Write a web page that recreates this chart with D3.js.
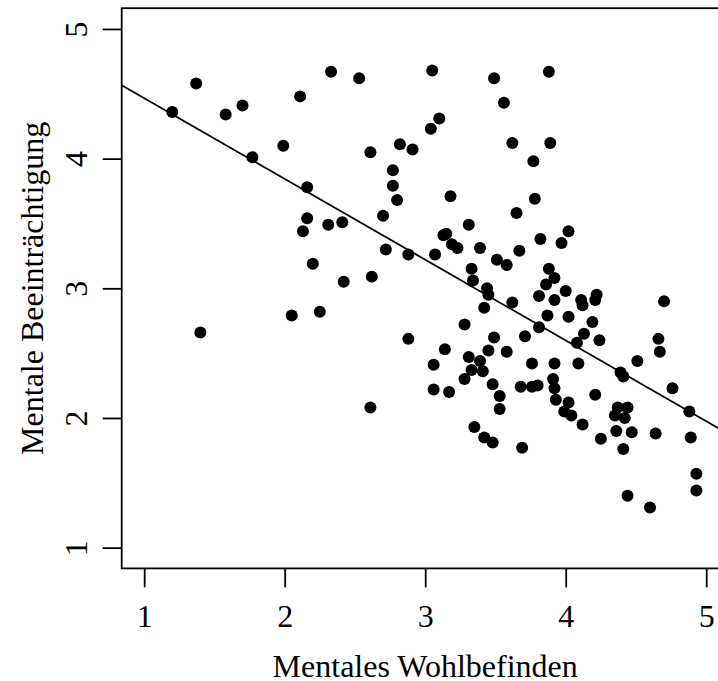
<!DOCTYPE html>
<html>
<head>
<meta charset="utf-8">
<script src="https://cdn.jsdelivr.net/npm/d3@7"></script>
<style>
  body { margin: 0; background: #fff; }
  svg { display: block; }
</style>
</head>
<body>
<div id="scatter"></div>
<script>
// Mentales Wohlbefinden (x) and Mentale Beeintraechtigung (y)
var wohlbefinden = [
  1.20, 1.37, 1.58, 1.70, 1.77, 1.99, 2.11, 2.33, 2.16, 2.16,
  2.13, 2.31, 2.41, 2.20, 2.42, 1.40, 2.05, 2.25, 2.53, 3.05,
  3.49, 3.56, 3.10, 3.04, 3.62, 3.77, 2.61, 2.82, 2.91, 2.77,
  2.77, 2.80, 3.18, 2.70, 3.65, 3.78, 3.31, 3.13, 3.15, 3.19,
  3.23, 3.39, 3.67, 2.72, 2.88, 3.07, 3.51, 3.58, 3.33, 3.34,
  3.44, 3.45, 3.62, 2.62, 3.88, 3.89, 4.02, 3.82, 3.97, 3.88,
  3.92, 3.86, 4.00, 3.81, 3.92, 4.11, 4.12, 4.22, 4.21, 4.70,
  3.87, 4.02, 3.81, 3.71, 4.19, 4.13, 4.08, 4.24, 4.66, 4.67,
  4.51, 3.76, 3.92, 4.09, 4.39, 4.41, 4.76, 3.68, 3.76, 3.80,
  3.91, 3.92, 4.21, 3.93, 4.02, 3.99, 4.04, 4.12, 4.37, 4.44,
  4.35, 4.42, 4.88, 4.25, 4.36, 4.47, 4.64, 4.89, 4.41, 3.69,
  4.93, 4.93, 4.44, 4.60, 3.42, 3.28, 2.88, 3.49, 3.14, 3.45,
  3.58, 3.06, 3.31, 3.39, 3.33, 3.41, 3.28, 3.48, 3.06, 3.17,
  3.53, 3.53, 2.61, 3.35, 3.42, 3.48
];
var beeintraechtigung = [
  4.36, 4.58, 4.34, 4.41, 4.01, 4.10, 4.48, 4.67, 3.78, 3.54,
  3.44, 3.49, 3.51, 3.19, 3.05, 2.66, 2.79, 2.82, 4.62, 4.68,
  4.62, 4.43, 4.31, 4.23, 4.12, 3.98, 4.05, 4.11, 4.07, 3.91,
  3.79, 3.68, 3.71, 3.56, 3.58, 3.69, 3.49, 3.41, 3.42, 3.34,
  3.31, 3.31, 3.29, 3.30, 3.26, 3.26, 3.22, 3.18, 3.15, 3.06,
  3.00, 2.95, 2.89, 3.09, 4.67, 4.12, 3.44, 3.38, 3.35, 3.15,
  3.08, 3.03, 2.98, 2.94, 2.91, 2.91, 2.87, 2.95, 2.91, 2.90,
  2.79, 2.78, 2.70, 2.63, 2.74, 2.65, 2.58, 2.60, 2.61, 2.51,
  2.44, 2.42, 2.42, 2.42, 2.35, 2.32, 2.23, 2.24, 2.24, 2.25,
  2.30, 2.23, 2.18, 2.14, 2.12, 2.05, 2.02, 1.95, 2.08, 2.08,
  2.02, 2.00, 2.05, 1.84, 1.90, 1.89, 1.88, 1.85, 1.76, 1.77,
  1.57, 1.44, 1.40, 1.31, 2.85, 2.72, 2.61, 2.62, 2.53, 2.52,
  2.51, 2.41, 2.47, 2.44, 2.37, 2.36, 2.30, 2.26, 2.22, 2.20,
  2.17, 2.07, 2.08, 1.93, 1.85, 1.81
];
var xTicks = [1, 2, 3, 4, 5];
var yTicks = [1, 2, 3, 4, 5];

var svgWidth = 718;
var svgHeight = 681;

// plot region (right edge runs past the picture, as in the original)
var plot = {left: 121.7, right: 728.7, top: 8.2, bottom: 568.4};
var font = "'Liberation Serif', 'Times New Roman', serif";

var svg = d3.select("#scatter").append("svg")
    .attr("width", svgWidth)
    .attr("height", svgHeight);

var xScale = d3.scaleLinear().domain([0.84, 5.16]).range([plot.left, plot.right]);
var yScale = d3.scaleLinear().domain([0.84, 5.16]).range([plot.bottom, plot.top]);

// clip for the regression line
svg.append("clipPath").attr("id", "plotclip")
  .append("rect")
    .attr("x", plot.left)
    .attr("y", plot.top)
    .attr("width", plot.right - plot.left)
    .attr("height", plot.bottom - plot.top);

// Axes
var xAxis = svg.append("g")
    .attr("transform", `translate(0, ${plot.bottom})`)
    .call(d3.axisBottom(xScale).tickValues(xTicks).tickSize(19).tickFormat(d3.format("d")));
xAxis.select(".domain").remove();
xAxis.attr("font-family", font).attr("font-size", 32);
xAxis.selectAll("line").attr("stroke", "#000").attr("stroke-width", 1.8);
xAxis.selectAll("text")
    .attr("y", 59)
    .attr("dy", null)
    .attr("fill", "#000");

var yAxis = svg.append("g")
    .attr("transform", `translate(${plot.left}, 0)`)
    .call(d3.axisLeft(yScale).tickValues(yTicks).tickSize(19).tickFormat(d3.format("d")));
yAxis.select(".domain").remove();
yAxis.attr("font-family", font).attr("font-size", 32);
yAxis.selectAll("line").attr("stroke", "#000").attr("stroke-width", 1.8);
yAxis.selectAll("text")
    .attr("x", null)
    .attr("dy", null)
    .attr("text-anchor", "middle")
    .attr("transform", "translate(-34.4, 0) rotate(-90)")
    .attr("fill", "#000");

// Plot box
svg.append("rect")
    .attr("x", plot.left)
    .attr("y", plot.top)
    .attr("width", plot.right - plot.left)
    .attr("height", plot.bottom - plot.top)
    .attr("fill", "none")
    .attr("stroke", "#000")
    .attr("stroke-width", 1.8);

// Points
svg.append("g").selectAll("circle")
    .data(wohlbefinden)
    .enter()
    .append("circle")
    .attr("cx", d => xScale(d))
    .attr("cy", (d, i) => yScale(beeintraechtigung[i]))
    .attr("r", 6)
    .attr("fill", "#000");

// Least squares line (abline(lm(y ~ x)))
var mx = d3.mean(wohlbefinden);
var my = d3.mean(beeintraechtigung);
var sxy = d3.sum(wohlbefinden, (d, i) => (d - mx) * (beeintraechtigung[i] - my));
var sxx = d3.sum(wohlbefinden, d => (d - mx) * (d - mx));
var slope = sxy / sxx;
var intercept = my - slope * mx;
console.log("lm", intercept, slope);

var lineX = xScale.domain();
svg.append("path")
    .datum(lineX)
    .attr("clip-path", "url(#plotclip)")
    .attr("d", d3.line()
        .x(d => xScale(d))
        .y(d => yScale(intercept + slope * d)))
    .attr("stroke", "#000")
    .attr("stroke-width", 1.8)
    .attr("fill", "none");

// Axis titles
svg.append("text")
    .attr("x", (plot.left + plot.right) / 2)
    .attr("y", 677)
    .attr("text-anchor", "middle")
    .attr("font-family", font)
    .attr("font-size", 32)
    .text("Mentales Wohlbefinden");

svg.append("text")
    .attr("transform", `translate(43, ${(plot.top + plot.bottom) / 2}) rotate(-90)`)
    .attr("text-anchor", "middle")
    .attr("font-family", font)
    .attr("font-size", 32)
    .text("Mentale Beeinträchtigung");
</script>
</body>
</html>
